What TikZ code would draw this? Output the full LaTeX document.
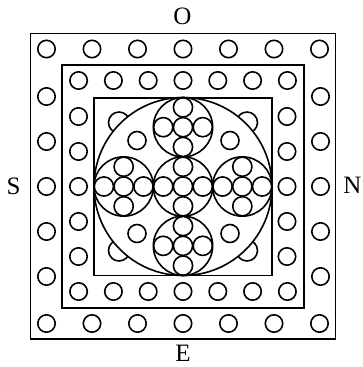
\documentclass[tikz,border=0pt]{standalone}
\usepackage{fontspec}
\setmainfont{Liberation Serif}
\begin{document}
\begin{tikzpicture}[x=1bp,y=-1bp,line width=1.6bp,
  sq/.style={line width=1.9bp},
  lbl/.style={inner sep=0pt,font=\fontsize{25bp}{25bp}\selectfont}]
\useasboundingbox (0,0) rectangle (363,367);
\begin{scope}[shift={(183,186.5)}]
  % squares
  \draw[sq] (-152.5,-153) rectangle (152.5,152.5);
  \draw[sq] (-121,-121.5) rectangle (121,121.5);
  \draw[sq] (-89,-88.5) rectangle (89,89);
  % outer ring of circles
  \foreach \i in {-3,...,3} {
    \draw (\i*45.5,-137.5) circle[radius=8.7];
    \draw (\i*45.5,137) circle[radius=8.7];
  }
  \foreach \j in {-2,...,2} {
    \draw (-136.5,\j*45) circle[radius=8.7];
    \draw (137.5,\j*45) circle[radius=8.7];
  }
  % middle ring of circles
  \foreach \i in {-3,...,3} {
    \draw (\i*34.8,-106) circle[radius=8.7];
    \draw (\i*34.8,105) circle[radius=8.7];
  }
  \foreach \j in {-2,...,2} {
    \draw (-104.5,\j*35) circle[radius=8.7];
    \draw (104,\j*35) circle[radius=8.7];
  }
  % bumps on the big circle
  \foreach \a in {45,135,225,315}
    \draw (\a:90.5) circle[radius=10.5];
  % big circle
  \filldraw[fill=white] (0,0) circle[radius=89];
  % free circles in the diagonals
  \foreach \x/\y in {-46/-46,47/-46,-46/47,47/47}
    \draw (\x,\y) circle[radius=9];
  % five cross circles, each with five tiny circles
  \foreach \x/\y in {0/0,0/-59.33,0/59.33,-59.33/0,59.33/0} {
    \draw (\x,\y) circle[radius=29.67];
    \foreach \u/\v in {0/0,19.78/0,-19.78/0,0/19.78,0/-19.78}
      \draw (\x+\u,\y+\v) circle[radius=9.6];
  }
\end{scope}
\node[lbl] (O) at (182.5,16.5) {O};
\node[lbl] (E) at (183,353.5) {E};
\node[lbl] (S) at (13.7,186.2) {S};
\node[lbl] (N) at (352.5,185.3) {N};
\end{tikzpicture}
\end{document}
